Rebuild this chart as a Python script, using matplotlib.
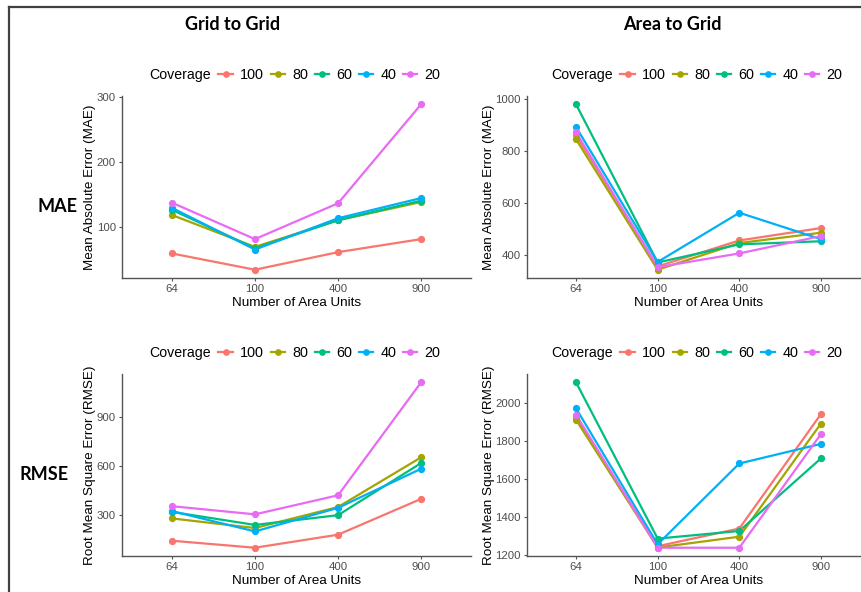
import matplotlib
matplotlib.use("Agg")
import matplotlib.pyplot as plt
from matplotlib.lines import Line2D

# ----------------- DATA -----------------------
units = ["64", "100", "400", "900"]
coverage = ["100", "80", "60", "40", "20"]
colors = ["#F8766D", "#A3A500", "#00BF7D", "#00B0F6", "#E76BF3"]

# one row per coverage level (100, 80, 60, 40, 20)
mae_grid = [
    [60, 35, 62, 82],
    [119, 70, 111, 139],
    [127, 68, 111, 141],
    [130, 66, 114, 145],
    [138, 82, 137, 289],
]
mae_area = [
    [862, 355, 455, 503],
    [846, 342, 445, 485],
    [981, 370, 440, 452],
    [893, 372, 562, 460],
    [873, 352, 405, 472],
]
rmse_grid = [
    [143, 100, 180, 400],
    [280, 221, 350, 655],
    [320, 240, 300, 620],
    [325, 200, 345, 585],
    [355, 305, 422, 1116],
]
rmse_area = [
    [1922, 1245, 1338, 1940],
    [1910, 1238, 1295, 1890],
    [2107, 1285, 1325, 1707],
    [1970, 1255, 1680, 1783],
    [1937, 1237, 1237, 1835],
]

W, H = 862, 592
AXIS_COL = "#555555"
TICK_COL = "#4D4D4D"


def box(x0, y0, x1, y1):
    # convert pixel box (top-left origin) to figure fraction
    return [x0 / W, 1 - y1 / H, (x1 - x0) / W, (y1 - y0) / H]


def draw_panel(fig, rect, values, yticks, ylabel, ylab_x, legend_y):
    ax = fig.add_axes(box(*rect))
    x = list(range(len(units)))

    # lines first, then points on top (ggplot layer order)
    for vals, col in zip(values, colors):
        ax.plot(x, vals, color=col, lw=1.6, zorder=2, solid_capstyle="butt")
    for vals, col in zip(values, colors):
        ax.plot(x, vals, "o", color=col, ms=4.2, zorder=3)

    lo = min(min(v) for v in values)
    hi = max(max(v) for v in values)
    pad = 0.05 * (hi - lo)
    ax.set_ylim(lo - pad, hi + pad)
    ax.set_xlim(-0.6, len(units) - 0.4)
    ax.set_xticks(x)
    ax.set_xticklabels(units)
    ax.set_yticks(yticks)

    for s in ["top", "right"]:
        ax.spines[s].set_visible(False)
    for s in ["left", "bottom"]:
        ax.spines[s].set_color(AXIS_COL)
        ax.spines[s].set_linewidth(1.0)
    ax.tick_params(colors=AXIS_COL, labelcolor=TICK_COL, labelsize=8.2,
                   length=2.5, width=0.8, pad=2)

    # axis titles
    x0, y0, x1, y1 = rect
    cx = (x0 + x1) / 2
    fig.text(cx / W, 1 - (y1 + 25) / H, "Number of Area Units",
             ha="center", va="center", fontsize=9.7)
    fig.text(ylab_x / W, 1 - ((y0 + y1) / 2) / H, ylabel, rotation=90,
             ha="center", va="center", fontsize=9.7)

    # legend: title on the left, keys in one row
    handles = [Line2D([], [], color=c, lw=1.6, marker="o", ms=3.8)
               for c in colors]
    fig.text((cx - 147) / W, 1 - legend_y / H, "Coverage",
             ha="left", va="center", fontsize=10.2)
    fig.legend(handles, coverage, loc="center left",
               bbox_to_anchor=((cx - 78) / W, 1 - legend_y / H),
               ncol=5, frameon=False, fontsize=10.4, handlelength=1.0,
               handletextpad=0.5, columnspacing=0.45, borderpad=0,
               borderaxespad=0)
    return ax


def main():
    plt.rcParams["font.family"] = ["Liberation Sans", "DejaVu Sans"]
    fig = plt.figure(figsize=(W / 100, H / 100), dpi=100)

    draw_panel(fig, (122, 96, 471, 278), mae_grid, [100, 200, 300],
               "Mean Absolute Error (MAE)", 90, 75)
    draw_panel(fig, (527, 96, 870, 278), mae_area, [400, 600, 800, 1000],
               "Mean Absolute Error (MAE)", 489, 75)
    draw_panel(fig, (122, 374, 471, 556), rmse_grid, [300, 600, 900],
               "Root Mean Square Error (RMSE)", 90, 353)
    draw_panel(fig, (527, 374, 870, 556), rmse_area,
               [1200, 1400, 1600, 1800, 2000],
               "Root Mean Square Error (RMSE)", 489, 353)

    # column and row headings
    bold = dict(fontsize=13, fontweight="bold", family=["Lato", "DejaVu Sans"],
                ha="center", va="center")
    fig.text(233 / W, 1 - 25 / H, "Grid to Grid", **bold)
    fig.text(672 / W, 1 - 25 / H, "Area to Grid", **bold)
    fig.text(58 / W, 1 - 207 / H, "MAE", **bold)
    fig.text(44 / W, 1 - 474 / H, "RMSE", **bold)

    # outer frame (top and left edges)
    frame = dict(color="#404040", lw=1.6, transform=fig.transFigure)
    fig.add_artist(Line2D([9 / W, 1], [1 - 7 / H, 1 - 7 / H], **frame))
    fig.add_artist(Line2D([9 / W, 9 / W], [0, 1 - 7 / H], **frame))

    fig.savefig("out.png", dpi=100)


if __name__ == "__main__":
    main()
